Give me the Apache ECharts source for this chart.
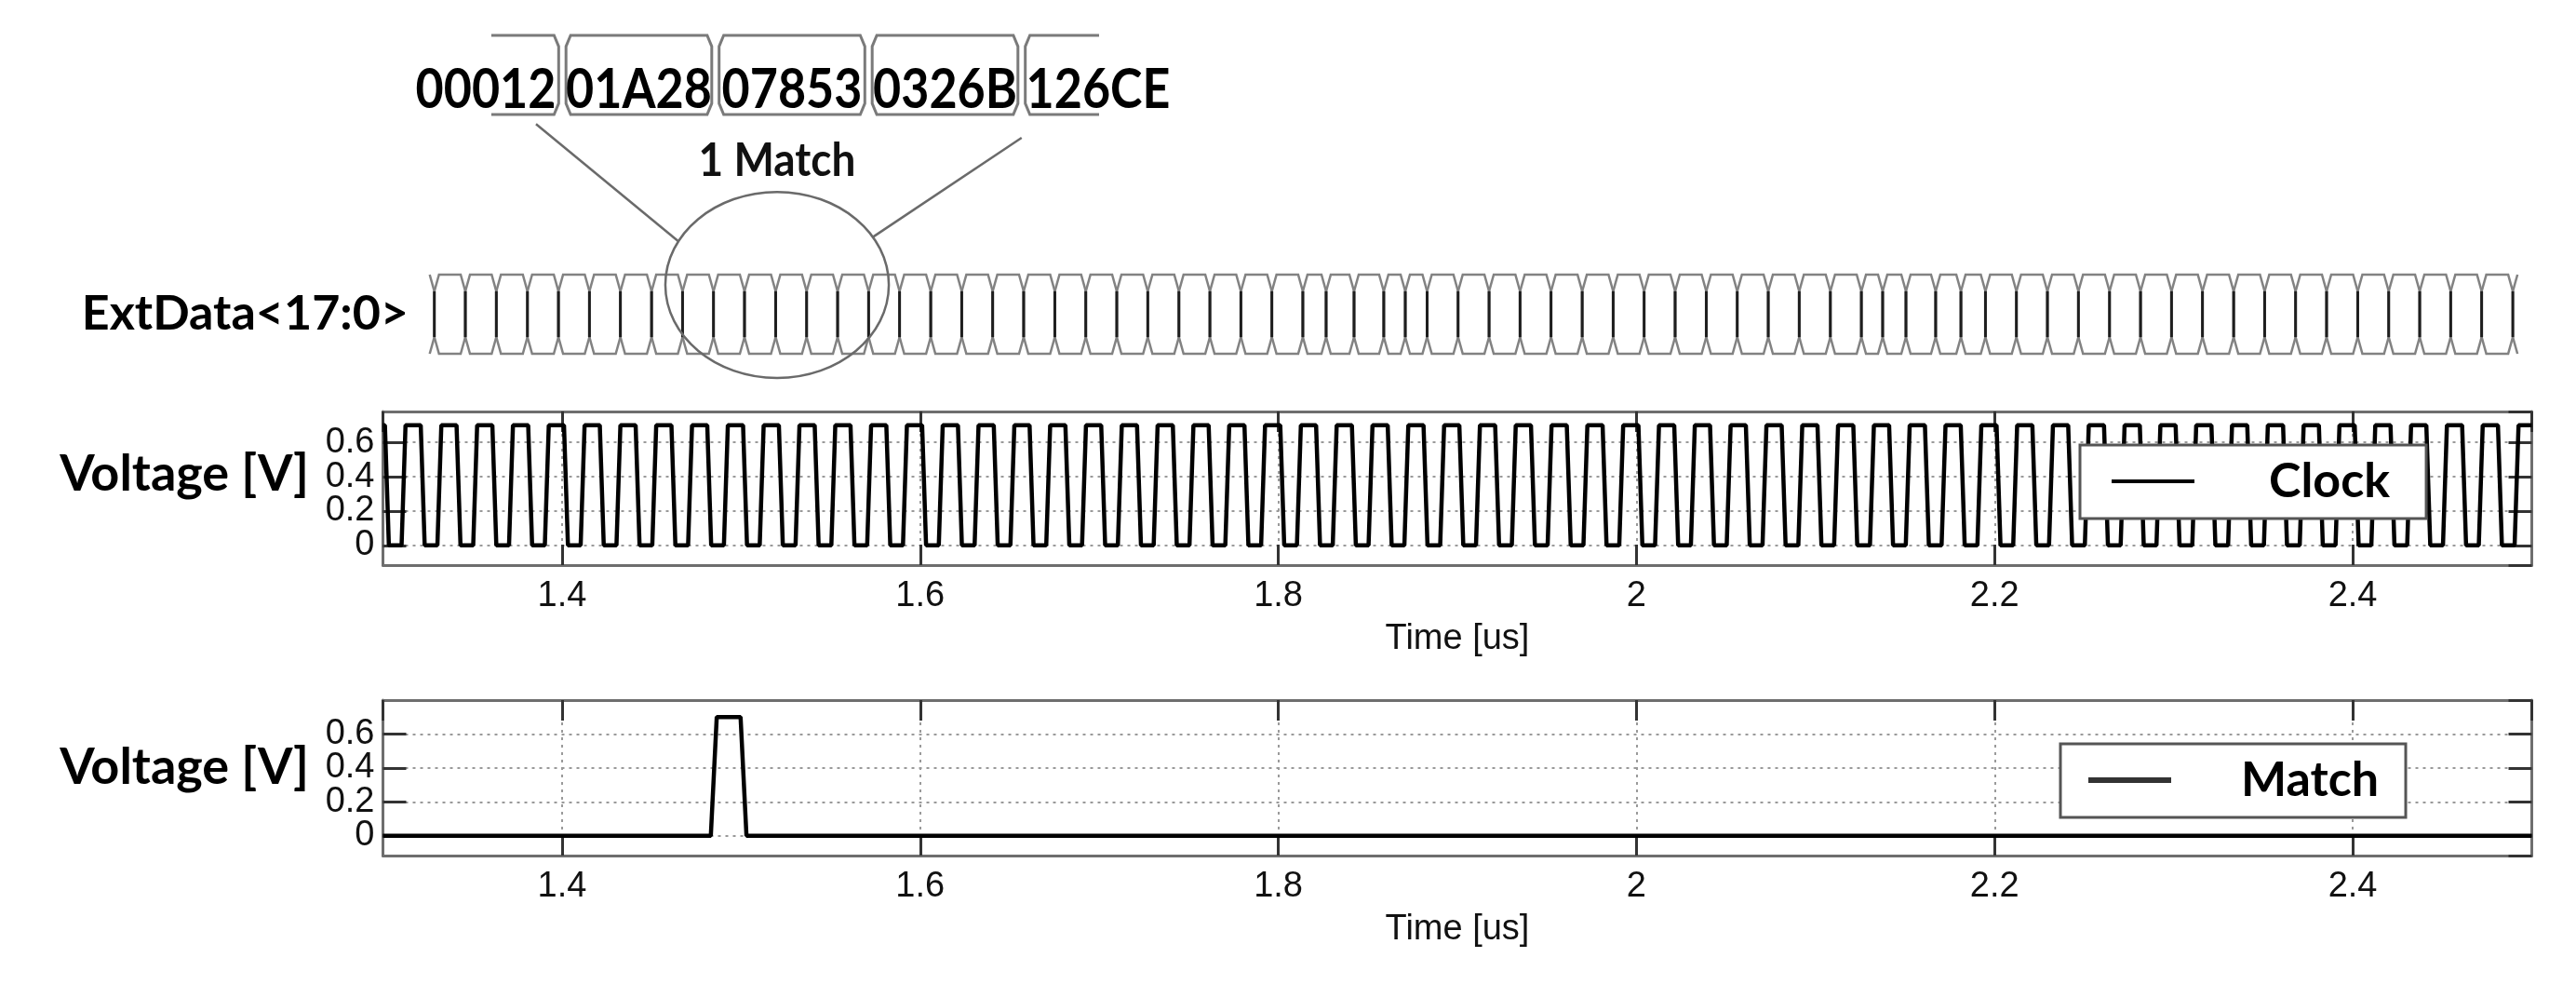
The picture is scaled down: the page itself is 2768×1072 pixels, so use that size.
<!DOCTYPE html>
<html><head><meta charset="utf-8">
<script src="https://cdn.jsdelivr.net/npm/echarts@6.0.0/dist/echarts.min.js"></script>
<style>html,body{margin:0;padding:0;background:#fff}#c{width:2768px;height:1072px}</style>
</head><body><div id="c"></div>
<script>
// ---------------- data ----------------
const timeRange = [1.3, 2.5];                 // us
const clockRise = [
 1.3115,1.3315,1.3515,1.3715,1.3915,1.4115,1.4315,1.4515,1.4715,1.4915,
 1.5115,1.5315,1.5515,1.5715,1.5915,1.6115,1.6315,1.6515,1.6715,1.6915,
 1.7115,1.7315,1.7515,1.7715,1.7915,1.8115,1.8315,1.8515,1.8715,1.8915,
 1.9115,1.9315,1.9515,1.9715,1.9915,2.0115,2.0315,2.0515,2.0715,2.0915,
 2.1115,2.1315,2.1515,2.1715,2.1915,2.2115,2.2315,2.2515,2.2715,2.2915,
 2.3115,2.3315,2.3515,2.3715,2.3915,2.4115,2.4315,2.4515,2.4715,2.4915];
const clockFall = [
 1.3022,1.3222,1.3422,1.3622,1.3822,1.4022,1.4222,1.4422,1.4622,1.4822,
 1.5022,1.5222,1.5422,1.5622,1.5822,1.6022,1.6222,1.6422,1.6622,1.6822,
 1.7022,1.7222,1.7422,1.7622,1.7822,1.8022,1.8222,1.8422,1.8622,1.8822,
 1.9022,1.9222,1.9422,1.9622,1.9822,2.0022,2.0222,2.0422,2.0622,2.0822,
 2.1022,2.1222,2.1422,2.1622,2.1822,2.2022,2.2222,2.2422,2.2622,2.2822,
 2.3022,2.3222,2.3422,2.3622,2.3822,2.4022,2.4222,2.4422,2.4622,2.4822];
const clockLevels = [0, 0.7];                 // V low / high
const clockEdgeTime = 0.0022;                 // us, rise/fall time

const matchTime = [1.3, 1.4831, 1.4864, 1.4997, 1.503, 2.5];
const matchVolt = [0, 0, 0.7, 0.7, 0, 0];

const extDataEdges = [
 1.3287,1.3460,1.3633,1.3807,1.3980,1.4153,1.4326,1.4500,1.4673,1.4846,
 1.5019,1.5193,1.5366,1.5539,1.5712,1.5885,1.6059,1.6232,1.6405,1.6578,
 1.6752,1.6925,1.7098,1.7271,1.7445,1.7618,1.7791,1.7964,1.8137,
 1.8267,1.8423,1.8589,1.8709,
 1.8831,1.9004,1.9177,1.9350,1.9523,1.9697,1.9870,2.0043,2.0216,2.0390,
 2.0563,2.0736,2.0909,2.1083,2.1256,
 2.1375,2.1505,2.1671,2.1812,
 2.1949,2.2122,2.2295,2.2468,2.2642,2.2815,2.2988,2.3161,2.3335,2.3508,
 2.3681,2.3854,2.4028,2.4201,2.4374,2.4547,2.4720,2.4894];

const hexWords = ['00012', '01A28', '07853', '0326B', '126CE'];
const matchWindowTime = 1.5201;               // us, centre of the "1 Match" window

const xTickLabelName = 'Time [us]';
const yLabelName = 'Voltage [V]';
const busName = 'ExtData<17:0>';
const matchNote = '1 Match';

// ---------------- build series data ----------------
const edges = [];
clockRise.forEach(t => edges.push([t, clockLevels[0], clockLevels[1]]));
clockFall.forEach(t => edges.push([t, clockLevels[1], clockLevels[0]]));
edges.sort((a, b) => a[0] - b[0]);
const clockData = [[timeRange[0], edges[0][1]]];
edges.forEach(([t, from, to]) => {
  clockData.push([t - clockEdgeTime / 2, from], [t + clockEdgeTime / 2, to]);
});
clockData.push([timeRange[1], edges[edges.length - 1][2]]);
const matchData = matchTime.map((t, i) => [t, matchVolt[i]]);

const busCells = [];
for (let i = 0; i < extDataEdges.length - 1; i++) {
  busCells.push([extDataEdges[i], extDataEdges[i + 1], i === 0 ? 1 : 0, i === extDataEdges.length - 2 ? 1 : 0]);
}
const hexCells = hexWords.map((w, i) => [i, i === 0 ? 1 : 0, i === hexWords.length - 1 ? 1 : 0, w]);

// ---------------- styles ----------------
const TXT = 'Lato, "Open Sans", sans-serif';
const AXF = '"Liberation Sans", Arial, sans-serif';
const BOX = '#6e6e6e';
const GRIDC = '#9a9a9a';
const BUSC = '#828282';

function xBottom(gi) {
  return {
    type: 'value', gridIndex: gi, position: 'bottom', min: timeRange[0], max: timeRange[1],
    axisLine: { show: true, onZero: false, lineStyle: { color: BOX, width: 3 } },
    axisTick: { show: true, inside: true, length: 22, lineStyle: { color: '#333', width: 3 } },
    axisLabel: { show: true, fontFamily: AXF, fontSize: 38, color: '#111', margin: 15,
                 showMinLabel: false, showMaxLabel: false },
    splitLine: { show: true, showMinLine: false, showMaxLine: false,
                 lineStyle: { color: GRIDC, width: 2, type: [3, 5] } },
    name: xTickLabelName, nameLocation: 'middle', nameGap: 61,
    nameTextStyle: { fontFamily: AXF, fontSize: 38, color: '#111' }
  };
}
function xTop(gi) {
  return {
    type: 'value', gridIndex: gi, position: 'top', min: timeRange[0], max: timeRange[1],
    axisLine: { show: true, onZero: false, lineStyle: { color: BOX, width: 3 } },
    axisTick: { show: true, inside: true, length: 22, lineStyle: { color: '#333', width: 3 } },
    axisLabel: { show: false }, splitLine: { show: false }
  };
}
function yLeft(gi, min, max) {
  return {
    type: 'value', gridIndex: gi, position: 'left', min, max,
    axisLine: { show: true, onZero: false, lineStyle: { color: BOX, width: 3 } },
    axisTick: { show: true, inside: true, length: 25, lineStyle: { color: '#333', width: 3 } },
    axisLabel: { show: true, fontFamily: AXF, fontSize: 38, color: '#111', margin: 9,
                 showMinLabel: false, showMaxLabel: false },
    splitLine: { show: true, showMinLine: false, showMaxLine: false,
                 lineStyle: { color: GRIDC, width: 2, type: [3, 5] } }
  };
}
function yRight(gi, min, max) {
  return {
    type: 'value', gridIndex: gi, position: 'right', min, max,
    axisLine: { show: true, onZero: false, lineStyle: { color: BOX, width: 3 } },
    axisTick: { show: true, inside: true, length: 25, lineStyle: { color: '#333', width: 3 } },
    axisLabel: { show: false }, splitLine: { show: false }
  };
}
function legendFor(name, left, top, padLeft, padRight, textGap, lineH, lineColor) {
  return {
    data: [name], left, top, orient: 'horizontal', selectedMode: false,
    icon: 'rect', itemWidth: 89, itemHeight: lineH, itemStyle: { color: lineColor },
    padding: [9, padRight, 10, padLeft],
    backgroundColor: '#fff', borderColor: '#555', borderWidth: 3, borderRadius: 0,
    textStyle: { fontFamily: TXT, fontWeight: 'bold', fontSize: 52, color: '#000',
                 lineHeight: 60, padding: [0, 0, 0, textGap] },
    z: 10
  };
}

// bus geometry (in axis units)
const BUS_CH = 0.0026, BUS_SH = 0.58;
const HEX_GAP = 0.024, HEX_CH = 0.03, HEX_SH = 0.72;
const HEX_LINE = [0.536, 4.506];

const option = {
  animation: false,
  backgroundColor: '#fff',
  grid: [
    { left: 411.5, right: 47.5, top: 442, height: 165 },
    { left: 411.5, right: 47.5, top: 752, height: 167 },
    { left: 411.5, right: 47.5, top: 295, height: 85 },
    { left: 439.75, width: 822.5, top: 38, height: 85 }
  ],
  xAxis: [
    xBottom(0), xTop(0), xBottom(1), xTop(1),
    { type: 'value', gridIndex: 2, min: timeRange[0], max: timeRange[1], show: false },
    { type: 'value', gridIndex: 3, min: 0, max: hexWords.length, show: false }
  ],
  yAxis: [
    yLeft(0, -0.115, 0.78), yRight(0, -0.115, 0.78),
    yLeft(1, -0.117, 0.8), yRight(1, -0.117, 0.8),
    { type: 'value', gridIndex: 2, min: -1, max: 1, show: false },
    { type: 'value', gridIndex: 3, min: -1, max: 1, show: false }
  ],
  legend: [
    legendFor('Clock', 2235, 478, 34, 39, 75, 4, '#000'),
    legendFor('Match', 2214, 799, 30, 29, 70, 6, '#333')
  ],
  series: [
    { name: 'Clock', type: 'line', xAxisIndex: 0, yAxisIndex: 0, data: clockData,
      symbol: 'none', lineStyle: { color: '#000', width: 4.5 }, itemStyle: { color: '#000' } },
    { name: 'Match', type: 'line', xAxisIndex: 2, yAxisIndex: 2, data: matchData,
      symbol: 'none', lineStyle: { color: '#000', width: 4.5 }, itemStyle: { color: '#222' } },
    { // ExtData bus waveform
      type: 'custom', xAxisIndex: 4, yAxisIndex: 4, data: busCells, silent: true,
      renderItem: (params, api) => {
        const a = api.value(0), b = api.value(1);
        const first = api.value(2), last = api.value(3);
        const p = (t, y) => api.coord([t, y]);
        const children = [{
          type: 'polygon',
          shape: { points: [p(a + BUS_CH, 1), p(b - BUS_CH, 1), p(b, BUS_SH), p(b, -BUS_SH),
                            p(b - BUS_CH, -1), p(a + BUS_CH, -1), p(a, -BUS_SH), p(a, BUS_SH)] },
          style: { fill: 'none', stroke: BUSC, lineWidth: 2.5 }
        }];
        const dark = (t) => {
          const u = p(t, BUS_SH), d = p(t, -BUS_SH);
          children.push({ type: 'line', shape: { x1: u[0], y1: u[1], x2: d[0], y2: d[1] },
                          style: { stroke: '#1e1e1e', lineWidth: 3 } });
        };
        dark(a);
        if (last) dark(b);
        const stub = (t, dir) => {
          [[1, BUS_SH], [-1, -BUS_SH]].forEach(([yo, yi]) => {
            const s = p(t + dir * BUS_CH, yo), e = p(t, yi);
            children.push({ type: 'line', shape: { x1: s[0], y1: s[1], x2: e[0], y2: e[1] },
                            style: { stroke: BUSC, lineWidth: 2.5 } });
          });
        };
        if (first) stub(a, -1);
        if (last) stub(b, 1);
        return { type: 'group', children };
      }
    },
    { // zoomed hex words
      type: 'custom', xAxisIndex: 5, yAxisIndex: 5, data: hexCells, silent: true,
      renderItem: (params, api) => {
        const i = api.value(0), first = api.value(1), last = api.value(2);
        const word = hexCells[params.dataIndex][3];
        const p = (x, y) => api.coord([x, y]);
        const a = i + HEX_GAP, b = i + 1 - HEX_GAP;
        let pts, type = 'polygon';
        if (first) {
          type = 'polyline';
          pts = [p(HEX_LINE[0], 1), p(b - HEX_CH, 1), p(b, HEX_SH), p(b, -HEX_SH), p(b - HEX_CH, -1), p(HEX_LINE[0], -1)];
        } else if (last) {
          type = 'polyline';
          pts = [p(HEX_LINE[1], 1), p(a + HEX_CH, 1), p(a, HEX_SH), p(a, -HEX_SH), p(a + HEX_CH, -1), p(HEX_LINE[1], -1)];
        } else {
          pts = [p(a + HEX_CH, 1), p(b - HEX_CH, 1), p(b, HEX_SH), p(b, -HEX_SH),
                 p(b - HEX_CH, -1), p(a + HEX_CH, -1), p(a, -HEX_SH), p(a, HEX_SH)];
        }
        const c = p(i + 0.5, -0.38);
        return { type: 'group', children: [
          { type, shape: { points: pts }, style: { fill: 'none', stroke: '#7a7a7a', lineWidth: 3 } },
          { type: 'text', x: c[0], y: c[1], scaleY: 1.15, z2: 5,
            style: { text: word, fill: '#000', font: 'bold 52px ' + TXT,
                     align: 'center', verticalAlign: 'middle', textAlign: 'center', textVerticalAlign: 'middle' } }
        ] };
      }
    },
    { // "1 Match" window
      type: 'custom', xAxisIndex: 4, yAxisIndex: 4, data: [[matchWindowTime, 0.74]], silent: true, z: 5,
      renderItem: (params, api) => {
        const c = api.coord([api.value(0), api.value(1)]);
        const rx = api.size([0.0624, 0])[0], ry = api.size([0, 2.35])[1];
        return { type: 'group', children: [
          { type: 'ellipse', shape: { cx: c[0], cy: c[1], rx, ry },
            style: { fill: 'none', stroke: '#6a6a6a', lineWidth: 2.5 } },
          { type: 'text', x: c[0], y: c[1] - ry - 33, scaleY: 1.1,
            style: { text: matchNote, fill: '#111', font: 'bold 46px ' + TXT,
                     align: 'center', verticalAlign: 'middle', textAlign: 'center', textVerticalAlign: 'middle' } }
        ] };
      }
    }
  ]
};

const chart = echarts.init(document.getElementById('c'));
chart.setOption(option);

// annotation lines linking the zoomed words to the window, plus side labels
const ctr = chart.convertToPixel({ xAxisIndex: 4, yAxisIndex: 4 }, [matchWindowTime, 0.74]);
const rxp = chart.convertToPixel({ xAxisIndex: 4, yAxisIndex: 4 }, [matchWindowTime + 0.0624, 0.74])[0] - ctr[0];
const ryp = ctr[1] - chart.convertToPixel({ xAxisIndex: 4, yAxisIndex: 4 }, [matchWindowTime, 0.74 + 2.35])[1];
const onEllipse = (deg) => [ctr[0] + rxp * Math.cos(deg * Math.PI / 180), ctr[1] - ryp * Math.sin(deg * Math.PI / 180)];
const lt = chart.convertToPixel({ xAxisIndex: 5, yAxisIndex: 5 }, [0.828, -1.24]);
const rt = chart.convertToPixel({ xAxisIndex: 5, yAxisIndex: 5 }, [4.0, -1.59]);
const lb = onEllipse(152), rb = onEllipse(31);
const lineStyle = { stroke: '#6a6a6a', lineWidth: 2.5 };
function label(text, x, y, size) {
  return { type: 'text', x, y, z: 20,
    style: { text, fill: '#000', font: 'bold ' + size + 'px ' + TXT,
             align: 'right', verticalAlign: 'middle', textAlign: 'right', textVerticalAlign: 'middle' } };
}
chart.setOption({ graphic: [
  { type: 'line', shape: { x1: lt[0], y1: lt[1], x2: lb[0], y2: lb[1] }, style: lineStyle },
  { type: 'line', shape: { x1: rt[0], y1: rt[1], x2: rb[0], y2: rb[1] }, style: lineStyle },
  label(busName, 439, 337, 52),
  label(yLabelName, 332, 510, 54),
  label(yLabelName, 332, 825, 54)
] });
</script></body></html>
